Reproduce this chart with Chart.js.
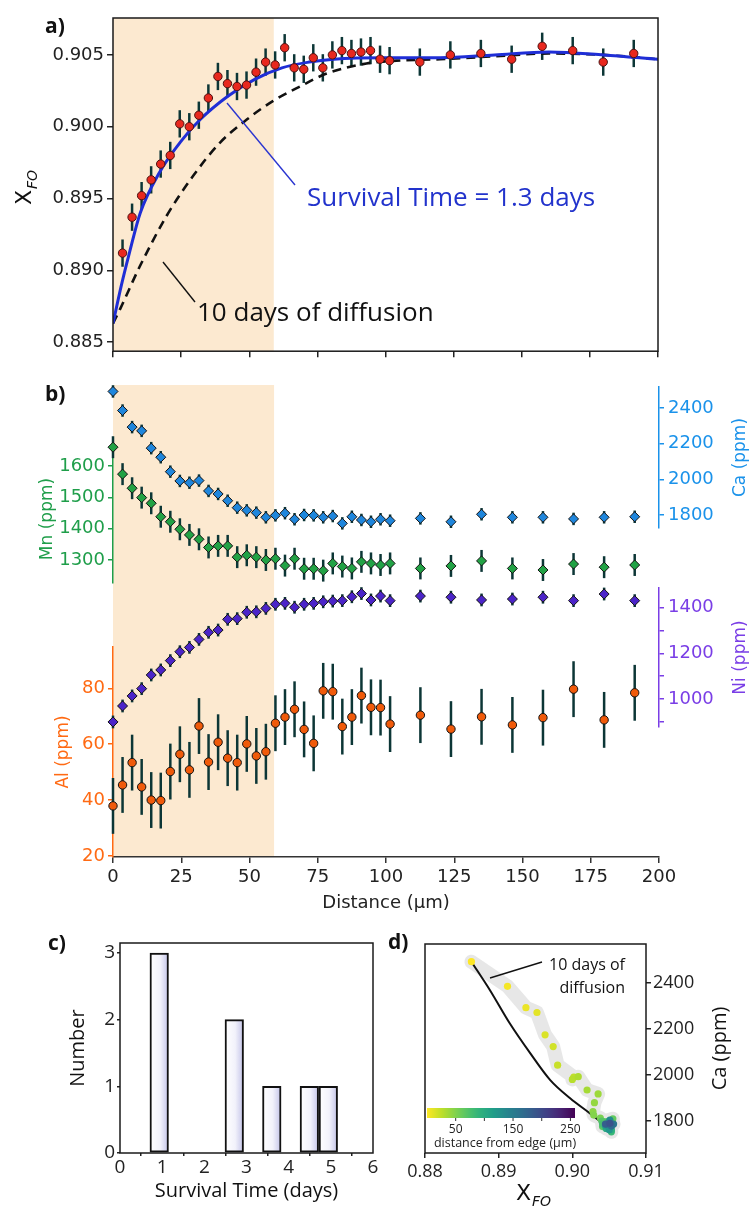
<!DOCTYPE html>
<html>
<head>
<meta charset="utf-8">
<script src="https://cdn.jsdelivr.net/npm/chart.js@4.4.1/dist/chart.umd.min.js"></script>
<style>
body { margin:0; background:#fff; width:753px; height:1209px; position:relative; overflow:hidden; }
canvas { position:absolute; }
#ca { left:0; top:0; }
#cb { left:0; top:365px; }
#cc { left:0; top:925px; }
#cd { left:380px; top:925px; }
.lab { position:absolute; font:bold 21px "Open Sans"; line-height:22px; color:#111; }
</style>
</head>
<body>
<canvas id="ca" width="753" height="365"></canvas>
<canvas id="cb" width="753" height="560"></canvas>
<canvas id="cc" width="380" height="284"></canvas>
<canvas id="cd" width="373" height="284"></canvas>
<div class="lab" style="left:45px;top:14px">a)</div>
<div class="lab" style="left:45px;top:382px">b)</div>
<div class="lab" style="left:48px;top:931px">c)</div>
<div class="lab" style="left:388px;top:930px">d)</div>
<script>
// distance from crystal edge (um)
const dist = [0,3.5,7,10.5,14,17.5,21,24.5,28,31.5,35,38.5,42,45.5,49,52.5,56,59.5,63,66.5,70,73.5,77,80.5,84,87.5,91,94.5,98,101.5,
  112.6,123.8,135,146.3,157.5,168.7,179.9,191.1];

// forsterite content (first value is the rim point, only shown in d)
const xFo = [0.8863,0.8912,0.8937,0.8952,0.8963,0.8974,0.8980,0.9002,0.9000,0.9008,0.9020,0.9035,0.9030,0.9028,0.9029,0.9038,0.9045,0.9043,0.9055,0.9041,
  0.9040,0.9048,0.9041,0.9050,0.9053,0.9051,0.9052,0.9053,0.9047,0.9046,
  0.9045,0.9050,0.9051,0.9047,0.9056,0.9053,0.9045,0.9051];
const xFoErr = 0.00095;

const ca = [2493,2386,2293,2272,2175,2124,2043,1991,1981,1993,1935,1918,1880,1841,1826,1813,1787,1798,1810,1776,
  1800,1798,1787,1794,1753,1790,1772,1762,1776,1768,
  1781,1762,1804,1787,1787,1778,1787,1790];
const caErr = 35;
const mn = [1660,1574,1529,1499,1481,1438,1422,1398,1380,1366,1340,1345,1345,1309,1315,1309,1300,1304,1282,1304,
  1272,1272,1266,1289,1279,1273,1294,1289,1284,1289,
  1273,1281,1297,1273,1268,1287,1277,1284];
const mnErr = 35;
const ni = [899,969,1013,1045,1105,1127,1168,1207,1226,1261,1292,1302,1349,1352,1380,1382,1397,1415,1419,1402,
  1415,1419,1426,1429,1431,1448,1462,1434,1451,1431,
  1451,1446,1434,1438,1446,1431,1460,1431];
const niErr = 28;
const al = [37.9,45.4,53.4,44.7,40.0,39.8,50.2,56.4,50.8,66.5,53.6,60.7,55.0,53.4,60.1,55.8,57.3,67.5,69.7,72.5,
  65.3,60.3,79.1,78.8,66.3,69.7,77.4,73.2,73.1,67.2,
  70.4,65.4,69.8,66.9,69.5,79.7,68.7,78.4];
const alErr = 10;

// model curves in a)
const fitX = [0,3,6,10,17,25,32,42,52,62,72,81,100,120,140,160,180,200];
const fitFo = [0.8863,0.8889,0.8912,0.8940,0.8968,0.8990,0.9005,0.9021,0.9033,0.9041,0.9045,0.9047,0.9048,0.9048,0.9050,0.9052,0.9050,0.9047];
const diffX = [0,2.6,9.9,19.7,29.5,39.3,49.1,58.8,68.6,78.4,93,104,120,140,160,180,200];
const diffFo = [0.8863,0.8873,0.8903,0.8938,0.8966,0.8989,0.9005,0.9018,0.9028,0.9037,0.9044,0.9046,0.9047,0.9049,0.9051,0.9050,0.9047];

// c) histogram of survival times
const survBins = [0.93,1.38,1.82,2.27,2.71,3.16,3.60,4.05,4.49,4.94];
const survCounts = [3,0,0,0,2,0,1,0,1,1];
const binW = 0.445;

// d) 10 day diffusion model path
const curveFo = [0.8863,0.8888,0.8915,0.8943,0.8970,0.8997,0.9024,0.9047];
const curveCa = [2493,2370,2225,2094,1978,1899,1833,1775];
const cbMax = 258;

const shadeEnd = 59;

Chart.defaults.font.family = 'DejaVu Sans';
Chart.defaults.color = '#222';
Chart.defaults.animation = false;
Chart.defaults.plugins.legend.display = false;
Chart.defaults.plugins.tooltip.enabled = false;

function pts(xs, ys) { return xs.map((x, i) => ({x: x, y: ys[i]})); }
function fixTicks(vals) { return s => { s.ticks = vals.map(v => ({value: v})); }; }

const viridis = ['#440154','#482878','#3e4989','#31688e','#26828e','#1f9e89','#35b779','#6ece58','#b5de2b','#fde725'];
function rgb(h) { return [1,3,5].map(k => parseInt(h.slice(k, k + 2), 16)); }
function viridisAt(t) {
  t = Math.max(0, Math.min(1, t));
  const p = t * (viridis.length - 1);
  const i = Math.min(Math.floor(p), viridis.length - 2);
  const f = p - i, a = rgb(viridis[i]), b = rgb(viridis[i + 1]);
  return 'rgb(' + a.map((v, k) => Math.round(v + (b[k] - v) * f)).join(',') + ')';
}
function distColor(d) { return viridisAt(1 - d / cbMax); }

const errorBars = {
  id: 'errorBars',
  beforeDatasetsDraw(chart) {
    const ctx = chart.ctx;
    chart.data.datasets.forEach((ds, i) => {
      if (ds.err == null) return;
      const meta = chart.getDatasetMeta(i);
      const xs = chart.scales[meta.xAxisID], ys = chart.scales[meta.yAxisID];
      ctx.save();
      ctx.strokeStyle = '#0c3636';
      ctx.lineWidth = 2.5;
      ds.data.forEach(p => {
        const px = xs.getPixelForValue(p.x);
        ctx.beginPath();
        ctx.moveTo(px, ys.getPixelForValue(p.y - ds.err));
        ctx.lineTo(px, ys.getPixelForValue(p.y + ds.err));
        ctx.stroke();
      });
      ctx.restore();
    });
  }
};

const shade = {
  id: 'shade',
  beforeDraw(chart) {
    const {ctx, chartArea: a} = chart;
    const x = chart.scales.x;
    const x0 = x.getPixelForValue(0), x1 = x.getPixelForValue(shadeEnd);
    ctx.save();
    ctx.fillStyle = '#fce9d0';
    ctx.fillRect(x0, a.top, x1 - x0, a.bottom - a.top);
    ctx.restore();
  }
};

const frame = {
  id: 'frame',
  afterDatasetsDraw(chart) {
    const {ctx, chartArea: a} = chart;
    ctx.save();
    ctx.strokeStyle = '#1a1a1a';
    ctx.lineWidth = 1.5;
    ctx.strokeRect(a.left, a.top, a.right - a.left, a.bottom - a.top);
    ctx.restore();
  }
};

// right-hand axis titles read bottom to top, like the left ones
function rightTitles(list) {
  return {
    id: 'rightTitles',
    afterDraw(chart) {
      const ctx = chart.ctx;
      list.forEach(t => {
        const s = chart.scales[t.axis];
        ctx.save();
        ctx.translate(t.x, (s.top + s.bottom) / 2);
        ctx.rotate(-Math.PI / 2);
        ctx.textAlign = 'center';
        ctx.textBaseline = 'middle';
        ctx.fillStyle = t.color;
        ctx.font = t.font;
        ctx.fillText(t.text, 0, 0);
        ctx.restore();
      });
    }
  };
}

function drawXFo(ctx, x, y, rot) {
  ctx.save();
  ctx.translate(x, y);
  ctx.rotate(rot);
  ctx.fillStyle = '#111';
  ctx.font = '22px "DejaVu Sans"';
  const w1 = ctx.measureText('X').width;
  ctx.font = 'italic 14px "DejaVu Sans"';
  const w2 = ctx.measureText('FO').width;
  const x0 = -(w1 + w2) / 2;
  ctx.font = '22px "DejaVu Sans"';
  ctx.fillText('X', x0, 7);
  ctx.font = 'italic 14px "DejaVu Sans"';
  ctx.fillText('FO', x0 + w1 + 1, 13);
  ctx.restore();
}

const notesA = {
  id: 'notesA',
  afterDatasetsDraw(chart) {
    const ctx = chart.ctx;
    ctx.save();
    ctx.lineWidth = 1.4;
    ctx.strokeStyle = '#2a35d0';
    ctx.beginPath(); ctx.moveTo(227, 103); ctx.lineTo(295, 185); ctx.stroke();
    ctx.strokeStyle = '#111';
    ctx.beginPath(); ctx.moveTo(163, 262); ctx.lineTo(195, 302); ctx.stroke();
    ctx.font = '26px "Open Sans"';
    ctx.fillStyle = '#2233cc';
    ctx.fillText('Survival Time = 1.3 days', 307, 206);
    ctx.fillStyle = '#111';
    ctx.fillText('10 days of diffusion', 197, 321);
    ctx.restore();
    drawXFo(ctx, 24, 188, -Math.PI / 2);
  }
};

// ---------- a) ----------
new Chart(document.getElementById('ca'), {
  type: 'scatter',
  data: {
    datasets: [
      { data: pts(dist.slice(1), xFo.slice(1)), err: xFoErr, pointRadius: 4.2, backgroundColor: '#e8281e',
        borderColor: '#4a1010', borderWidth: 1, order: 0 },
      { data: pts(fitX, fitFo), showLine: true, pointRadius: 0, borderColor: '#1f2ed6', borderWidth: 3,
        cubicInterpolationMode: 'monotone', order: 1 },
      { data: pts(diffX, diffFo), showLine: true, pointRadius: 0, borderColor: '#111', borderWidth: 2.6,
        borderDash: [9, 6], cubicInterpolationMode: 'monotone', order: 2 }
    ]
  },
  options: {
    responsive: false, devicePixelRatio: 1,
    layout: { padding: { left: 0, top: 18, right: 95, bottom: 5 } },
    scales: {
      x: { min: 0, max: 200, afterBuildTicks: fixTicks([0,25,50,75,100,125,150,175,200]),
        ticks: { display: false },
        grid: { drawOnChartArea: false, tickLength: 6, color: '#222', lineWidth: 1.5 },
        border: { display: false },
        afterFit: s => { s.height = 8; } },
      y: { min: 0.88437, max: 0.90757, afterBuildTicks: fixTicks([0.885,0.890,0.895,0.900,0.905]),
        ticks: { callback: v => v.toFixed(3), font: { size: 18 }, padding: 3, color: '#222', autoSkip: false },
        grid: { drawOnChartArea: false, tickLength: 6, color: '#222', lineWidth: 1.5 },
        border: { display: false },
        afterFit: s => { s.width = 113; } }
    }
  },
  plugins: [shade, errorBars, frame, notesA]
});

// ---------- b) ----------
function sideAxis(pos, weight, width, extra) {
  return Object.assign({
    type: 'linear', position: pos, stack: pos === 'left' ? 'L' : 'R', stackWeight: weight,
    ticks: { display: false }, grid: { display: false }, border: { display: false },
    afterFit: s => { s.width = width; }
  }, extra || {});
}
function valueAxis(pos, weight, width, col, min, max, ticks, title, tpad, labelFn) {
  return sideAxis(pos, weight, width, {
    min: min, max: max, clip: false,
    afterBuildTicks: fixTicks(ticks),
    ticks: { color: col, font: { size: 18 }, padding: pos === 'left' ? 3 : 4, autoSkip: false, callback: labelFn || (v => String(v)) },
    grid: { drawOnChartArea: false, tickLength: 5, color: col, lineWidth: 1.5 },
    border: { display: true, color: col, width: 1.5 },
    title: { display: pos === 'left', text: title, color: col, font: { size: 17 }, padding: { top: tpad, bottom: 0 } }
  });
}

const mkSeries = (vals, err, axis, fill, style, r) => ({
  data: pts(dist, vals), err: err, yAxisID: axis, pointStyle: style, pointRadius: r,
  backgroundColor: fill, borderColor: '#111', borderWidth: 1, clip: false
});

const caCol = '#1a92ea', niCol = '#7a3ee6';

new Chart(document.getElementById('cb'), {
  type: 'scatter',
  data: {
    datasets: [
      mkSeries(ca, caErr, 'ca', '#1f86dc', 'rectRot', 5),
      mkSeries(mn, mnErr, 'mn', '#22a245', 'rectRot', 5),
      mkSeries(ni, niErr, 'ni', '#4b24c8', 'rectRot', 5),
      mkSeries(al, alErr, 'al', '#f05a0a', 'circle', 4.2)
    ]
  },
  options: {
    responsive: false, devicePixelRatio: 1,
    layout: { padding: { left: 33, top: 20, right: 0, bottom: 7 } },
    scales: {
      x: { type: 'linear', position: 'bottom', min: 0, max: 200, clip: false,
        afterBuildTicks: fixTicks([0,25,50,75,100,125,150,175,200]),
        ticks: { font: { size: 18 }, padding: 4, maxRotation: 0, color: '#222', autoSkip: false },
        grid: { drawOnChartArea: false, tickLength: 6, color: '#333', lineWidth: 1.5 },
        border: { color: '#333', width: 1.5 },
        title: { display: true, text: 'Distance (\u03bcm)', font: { size: 18 }, color: '#222', padding: { top: 0, bottom: 4 } },
        afterFit: s => { s.height = 61; } },
      // left stack, listed bottom to top
      al: valueAxis('left', 210, 80, '#ff6a13', 19.6, 94.8, [20,40,60,80], 'Al (ppm)', 20),
      gapL: sideAxis('left', 64, 80),
      mn: valueAxis('left', 128, 80, '#1f9e4a', 1226.5, 1635.1, [1300,1400,1500,1600], 'Mn (ppm)', 4),
      topL: sideAxis('left', 70, 80),
      // right stack, listed top to bottom
      topR: sideAxis('right', 2, 94),
      ca: valueAxis('right', 141, 94, caCol, 1727, 2518, [1800,2000,2200,2400], 'Ca (ppm)', 2),
      gapR: sideAxis('right', 60, 94),
      ni: valueAxis('right', 139, 94, niCol, 876.8, 1486.4, [900,1000,1100,1200,1300,1400], 'Ni (ppm)', 2,
        v => (v % 200 === 0 ? String(v) : '')),
      botR: sideAxis('right', 130, 94)
    }
  },
  plugins: [shade, errorBars, rightTitles([
    { axis: 'ca', text: 'Ca (ppm)', color: caCol, font: '17px "DejaVu Sans"', x: 741 },
    { axis: 'ni', text: 'Ni (ppm)', color: niCol, font: '17px "DejaVu Sans"', x: 741 }
  ])]
});

// ---------- c) ----------
new Chart(document.getElementById('cc'), {
  type: 'bar',
  data: {
    datasets: [{
      data: survBins.map((x, i) => ({ x: x, y: survCounts[i] || null })),
      barPercentage: 1, categoryPercentage: 1,
      borderColor: '#111', borderWidth: 2, borderSkipped: false,
      backgroundColor: c => {
        const sx = c.chart.scales.x;
        const fallback = '#ececf8';
        if (!sx || !c.parsed || !isFinite(c.parsed.x)) return fallback;
        const x0 = sx.getPixelForValue(c.parsed.x - binW / 2), x1 = sx.getPixelForValue(c.parsed.x + binW / 2);
        if (!isFinite(x0) || !isFinite(x1)) return fallback;
        const g = c.chart.ctx.createLinearGradient(x0, 0, x1, 0);
        g.addColorStop(0, '#ffffff');
        g.addColorStop(0.55, '#f2f2fb');
        g.addColorStop(1, '#c2c2e8');
        return g;
      }
    }]
  },
  options: {
    responsive: false, devicePixelRatio: 1,
    layout: { padding: { left: 62, top: 18, right: 7, bottom: 6 } },
    scales: {
      x: { type: 'linear', min: 0, max: 6, offset: false, afterBuildTicks: fixTicks([0,1,2,3,4,5,6]),
        ticks: { font: { family: 'Open Sans', size: 19 }, padding: 0, maxRotation: 0, color: '#222', autoSkip: false },
        grid: { drawOnChartArea: false, tickLength: 3, color: '#222', lineWidth: 1.5 },
        border: { display: false },
        title: { display: true, text: 'Survival Time (days)', font: { family: 'Open Sans', size: 20 }, color: '#111', padding: { top: 0, bottom: 0 } },
        afterFit: s => { s.height = 50; } },
      y: { min: 0, max: 3.15, afterBuildTicks: fixTicks([0,1,2,3]),
        ticks: { font: { family: 'Open Sans', size: 19 }, padding: 2, color: '#222', autoSkip: false },
        grid: { drawOnChartArea: false, tickLength: 3, color: '#222', lineWidth: 1.5 },
        border: { display: false },
        title: { display: true, text: 'Number', font: { family: 'Open Sans', size: 20 }, color: '#111', padding: { top: 4, bottom: 0 } },
        afterFit: s => { s.width = 58; } }
    }
  },
  plugins: [frame]
});

// ---------- d) ----------
const notesD = {
  id: 'notesD',
  afterDatasetsDraw(chart) {
    const ctx = chart.ctx;
    ctx.save();
    // colour bar for distance from edge
    const bx0 = 47, bx1 = 195, by = 183, bh = 10;
    const g = ctx.createLinearGradient(bx0, 0, bx1, 0);
    for (let k = 0; k <= 20; k++) g.addColorStop(k / 20, viridisAt(1 - k / 20));
    ctx.fillStyle = g;
    ctx.fillRect(bx0, by, bx1 - bx0, bh);
    ctx.strokeStyle = '#333';
    ctx.lineWidth = 1;
    ctx.fillStyle = '#222';
    ctx.font = '12px "Open Sans"';
    ctx.textAlign = 'center';
    [50, 100, 150, 200, 250].forEach(v => {
      const px = bx0 + (bx1 - bx0) * v / cbMax;
      ctx.beginPath(); ctx.moveTo(px, by + bh); ctx.lineTo(px, by + bh + 3); ctx.stroke();
      if (v % 100 === 50) ctx.fillText(String(v), px, by + bh + 15);
    });
    ctx.font = '12.5px "Open Sans"';
    ctx.fillText('distance from edge (\u00b5m)', 125, 222);
    // label of the model path
    ctx.textAlign = 'right';
    ctx.font = '16px "Open Sans"';
    ctx.fillStyle = '#111';
    ctx.fillText('10 days of', 245, 45);
    ctx.fillText('diffusion', 245, 68);
    ctx.strokeStyle = '#111';
    ctx.lineWidth = 1.4;
    ctx.beginPath(); ctx.moveTo(110, 53); ctx.lineTo(162, 37); ctx.stroke();
    ctx.restore();
    drawXFo(ctx, 153, 268, 0);
  }
};

new Chart(document.getElementById('cd'), {
  type: 'scatter',
  data: {
    datasets: [
      { data: pts(xFo, ca), pointRadius: 3.6, borderWidth: 0,
        backgroundColor: c => distColor(dist[c.dataIndex]), order: 0 },
      { data: pts(curveFo, curveCa), showLine: true, pointRadius: 0, borderColor: '#111', borderWidth: 2,
        cubicInterpolationMode: 'monotone', order: 1 },
      { data: pts(xFo, ca), showLine: true, pointRadius: 0, borderColor: 'rgba(195,195,195,0.4)', borderWidth: 14,
        borderJoinStyle: 'round', borderCapStyle: 'round', order: 2 }
    ]
  },
  options: {
    responsive: false, devicePixelRatio: 1,
    layout: { padding: { left: 45, top: 19, right: 17, bottom: 11 } },
    scales: {
      x: { min: 0.88, max: 0.91, afterBuildTicks: fixTicks([0.88,0.89,0.90,0.91]),
        ticks: { callback: v => v.toFixed(2), font: { family: 'Open Sans', size: 18 }, padding: 3, maxRotation: 0, color: '#222', autoSkip: false },
        grid: { drawOnChartArea: false, tickLength: 5, color: '#222', lineWidth: 1.5 },
        border: { display: false },
        afterFit: s => { s.height = 45; } },
      y: { position: 'right', min: 1661, max: 2570, afterBuildTicks: fixTicks([1800,2000,2200,2400]),
        ticks: { callback: v => String(v), font: { family: 'Open Sans', size: 18 }, padding: 2, color: '#222', autoSkip: false },
        grid: { drawOnChartArea: false, tickLength: 5, color: '#222', lineWidth: 1.5 },
        border: { display: false },
        afterFit: s => { s.width = 90; } }
    }
  },
  plugins: [frame, notesD, rightTitles([
    { axis: 'y', text: 'Ca (ppm)', color: '#111', font: '20px "Open Sans"', x: 340 }
  ])]
});
</script>
</body>
</html>
